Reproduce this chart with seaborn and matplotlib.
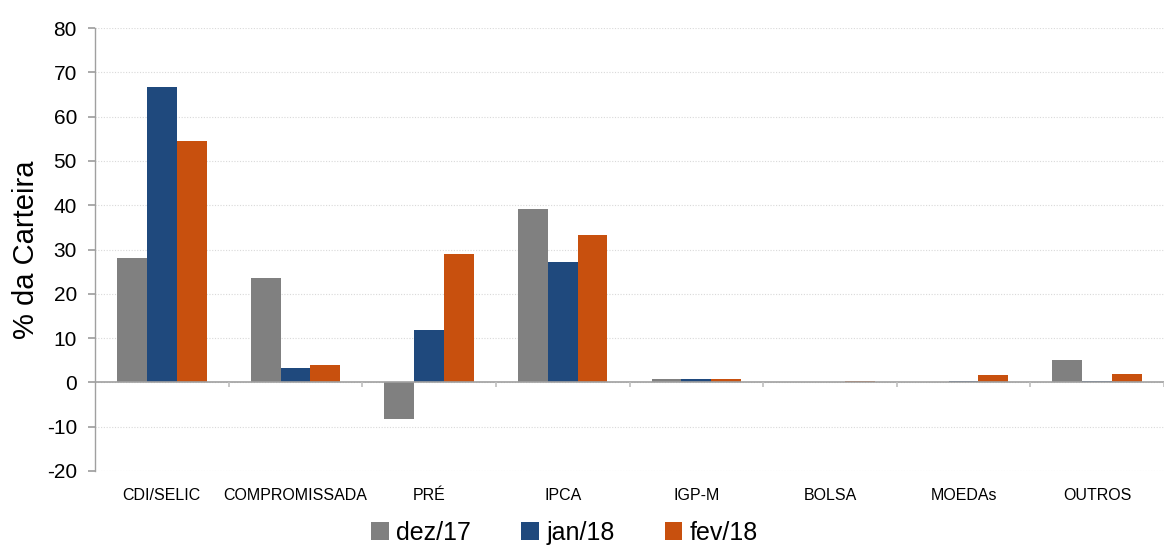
import matplotlib
matplotlib.use("Agg")
import matplotlib.pyplot as plt
import seaborn as sns
import pandas as pd
import numpy as np
from matplotlib.patches import Patch

categories = ["CDI/SELIC", "COMPROMISSADA", "PRÉ", "IPCA", "IGP-M", "BOLSA", "MOEDAs", "OUTROS"]
series_names = ["dez/17", "jan/18", "fev/18"]
dez17 = [28.1, 23.5, -8.3, 39.1, 0.7, 0.2, 0.0, 5.0]
jan18 = [66.6, 3.2, 11.8, 27.2, 0.7, 0.2, 0.3, 0.3]
fev18 = [54.5, 3.9, 28.9, 33.3, 0.7, 0.4, 1.6, 1.9]
colors = ["#808080", "#1F497D", "#C8500E"]

rows = []
for name, vals in zip(series_names, [dez17, jan18, fev18]):
    for c, v in zip(categories, vals):
        rows.append({"cat": c, "serie": name, "val": v})
df = pd.DataFrame(rows)

sns.set_theme(style="white")
plt.rcParams["font.family"] = ["Liberation Sans", "DejaVu Sans"]
plt.rcParams["axes.unicode_minus"] = False
plt.rcParams["text.color"] = "black"
plt.rcParams["axes.labelcolor"] = "black"
plt.rcParams["xtick.color"] = "black"
plt.rcParams["ytick.color"] = "black"

fig = plt.figure(figsize=(11.64, 5.48), dpi=100)
ax = fig.add_axes([95/1164, 77/548, 1 - 95/1164, (471-28)/548])

sns.barplot(data=df, x="cat", y="val", hue="serie", order=categories,
            hue_order=series_names, palette=colors, width=0.67, gap=0,
            saturation=1, legend=False, ax=ax, edgecolor="none")

ax.set_ylim(-20, 80)
ax.set_xlim(-0.5, len(categories) - 0.5)
ax.set_yticks(np.arange(-20, 81, 10))
ax.yaxis.grid(True, linestyle=(0, (1, 1.5)), color="#d9d9d9", linewidth=0.8)
ax.set_axisbelow(True)
for s in ["top", "right", "bottom"]:
    ax.spines[s].set_visible(False)
ax.spines["left"].set_color("#a0a0a0")
ax.spines["left"].set_linewidth(1)
ax.axhline(0, color="#a0a0a0", linewidth=1.2, zorder=3)
ax.vlines(np.arange(len(categories)) + 0.5, -1.0, 0, color="#bfbfbf", linewidth=1.2, zorder=3)

ax.tick_params(axis="y", labelsize=15, left=True, length=5, color="#a0a0a0",
               labelcolor="black", pad=8)
ax.tick_params(axis="x", labelsize=11.5, bottom=False, pad=6, labelcolor="black")
ax.set_xlabel("")
ax.set_ylabel("% da Carteira", fontsize=21, labelpad=5, color="black")

handles = [Patch(facecolor=c, edgecolor="none") for c in colors]
fig.legend(handles, series_names, loc="lower center", bbox_to_anchor=(0.485, -0.035),
           ncol=3, frameon=False, fontsize=18, handlelength=0.7, handleheight=0.7,
           handletextpad=0.3, columnspacing=2.0)

fig.savefig("out.png", dpi=100)
